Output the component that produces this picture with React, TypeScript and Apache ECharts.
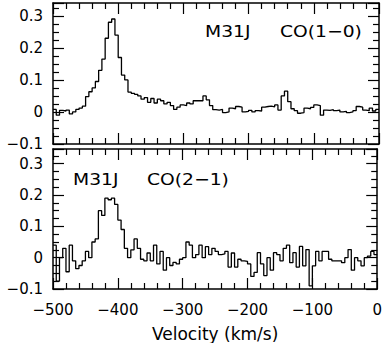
import React, { useEffect, useRef } from "react";
import * as echarts from "echarts";

// Spectra: channels of 5 km/s starting at -500 km/s
const CHANNEL_START = -500;
const CHANNEL_WIDTH = 5;

const co10 = [
  0.008, -0.01, 0.005, 0.003, 0.006, -0.006, 0.0, 0.008, 0.012, 0.018,
  0.048, 0.063, 0.075, 0.095, 0.13, 0.165, 0.23, 0.28, 0.29, 0.24,
  0.17, 0.115, 0.1, 0.062, 0.058, 0.055, 0.05, 0.04, 0.045, 0.03,
  0.042, 0.028, 0.04, 0.035, 0.025, 0.03, 0.02, 0.008, 0.015, 0.022,
  0.02, 0.028, 0.025, 0.035, 0.035, 0.035, 0.05, 0.038, 0.02, 0.007,
  0.006, 0.008, -0.002, 0.0, 0.012, 0.01, 0.017, 0.015, 0.0, 0.002,
  0.005, 0.0, 0.004, 0.003, 0.015, 0.017, 0.018, 0.016, 0.022, 0.006,
  0.05, 0.065, 0.032, 0.01, 0.004, -0.004, -0.002, 0.012, 0.01, 0.014,
  0.022, 0.02, -0.01, 0.006, 0.005, 0.007, 0.004, 0.006, 0.0, 0.002,
  -0.002, 0.0, 0.004, 0.017, 0.015, 0.006, 0.004, 0.012, 0.003, 0.008,
];

const co21 = [
  0.04, -0.075, 0.0, 0.03, -0.045, 0.04, -0.01, -0.035, -0.025, -0.01,
  0.02, 0.0, 0.05, 0.06, 0.15, 0.135, 0.19, 0.185, 0.19, 0.17,
  0.12, 0.09, 0.03, 0.0, 0.025, 0.06, 0.03, -0.005, -0.01, 0.015,
  -0.01, 0.04, -0.02, 0.02, -0.04, 0.0, -0.025, -0.015, -0.02, -0.005,
  0.0, 0.05, 0.04, 0.0, 0.01, 0.04, 0.0, 0.035, 0.01, 0.03,
  0.02, 0.01, 0.012, 0.02, -0.03, 0.015, -0.03, -0.005, -0.01, -0.012,
  -0.02, -0.06, -0.047, 0.016, -0.02, -0.057, 0.0, -0.04, 0.016, 0.01,
  -0.01, 0.03, 0.04, -0.016, 0.016, -0.03, 0.036, -0.026, 0.026, -0.09,
  -0.026, 0.02, -0.01, 0.02, 0.02, -0.005, -0.01, -0.01, -0.01, -0.016,
  0.0, 0.026, -0.04, 0.0, -0.01, -0.026, 0.0, 0.005, 0.02, 0.01,
];

const X_MIN = -500;
const X_MAX = 0;
const X_INTERVAL = 100;
const Y_MIN = -0.1;
const Y_INTERVAL = 0.1;
const TOP_Y_MAX = 0.34;
const BOTTOM_Y_MAX = 0.347;

const topLabels = ["M31J", "CO(1\u22120)"];
const bottomLabels = ["M31J", "CO(2\u22121)"];
const xTitle = "Velocity (km/s)";

const FONT = "DejaVu Sans";

function toSteps(values: number[]) {
  const pts: number[][] = values.map((v, i) => [CHANNEL_START + i * CHANNEL_WIDTH, v]);
  pts.push([CHANNEL_START + values.length * CHANNEL_WIDTH, values[values.length - 1]]);
  return pts;
}

const minus = (s: string) => s.replace("-", "\u2212");

function yFmt(v: number) {
  const r = Math.round(v * 10);
  if (Math.abs(v * 10 - r) > 1e-6) return "";
  if (r === 0) return "0";
  return minus((r / 10).toFixed(1));
}

function xFmt(v: number) {
  if (v === 0) return "0";
  return minus(String(v));
}

function xAxisDef(gridIndex: number, position: "top" | "bottom", showLabel: boolean, name?: string) {
  return {
    type: "value",
    gridIndex,
    position,
    min: X_MIN,
    max: X_MAX,
    interval: X_INTERVAL,
    name: name || "",
    nameLocation: "middle",
    nameGap: 36,
    nameTextStyle: { fontFamily: FONT, fontSize: 17, color: "#000" },
    axisLine: { show: true, onZero: false, lineStyle: { color: "#000", width: 1.5 } },
    axisTick: { show: true, inside: true, length: 11, lineStyle: { color: "#000", width: 1.2 } },
    minorTick: { show: true, splitNumber: 5, length: 6, lineStyle: { color: "#000", width: 1.2 } },
    splitLine: { show: false },
    minorSplitLine: { show: false },
    axisLabel: {
      show: showLabel,
      margin: 13,
      fontFamily: FONT,
      fontSize: 15,
      color: "#000",
      formatter: xFmt,
      showMinLabel: true,
      showMaxLabel: true,
    },
  };
}

function yAxisDef(gridIndex: number, position: "left" | "right", showLabel: boolean, max: number) {
  return {
    type: "value",
    gridIndex,
    position,
    min: Y_MIN,
    max,
    interval: Y_INTERVAL,
    axisLine: { show: true, onZero: false, lineStyle: { color: "#000", width: 1.5 } },
    axisTick: { show: true, inside: true, length: 11, lineStyle: { color: "#000", width: 1.2 } },
    minorTick: { show: true, splitNumber: 4, length: 6, lineStyle: { color: "#000", width: 1.2 } },
    splitLine: { show: false },
    minorSplitLine: { show: false },
    axisLabel: {
      show: showLabel,
      margin: 10,
      fontFamily: FONT,
      fontSize: 15,
      color: "#000",
      formatter: yFmt,
    },
  };
}

function labelText(x: number, y: number, text: string) {
  return {
    type: "text",
    x,
    y,
    scaleX: 1.17,
    style: {
      text,
      fill: "#000",
      font: `16px "${FONT}"`,
      textVerticalAlign: "middle",
      textAlign: "left",
    },
  };
}

export default function App() {
  const ref = useRef<HTMLDivElement>(null);

  useEffect(() => {
    if (!ref.current) return;
    const chart = echarts.init(ref.current, null, { renderer: "svg" });
    chart.setOption({
      animation: false,
      backgroundColor: "#fff",
      grid: [
        { left: 53, right: 6, top: 3, height: 141 },
        { left: 53, right: 6, top: 149, height: 143 },
      ],
      xAxis: [
        xAxisDef(0, "bottom", false),
        xAxisDef(0, "top", false),
        xAxisDef(1, "bottom", true, xTitle),
        xAxisDef(1, "top", false),
      ],
      yAxis: [
        yAxisDef(0, "left", true, TOP_Y_MAX),
        yAxisDef(0, "right", false, TOP_Y_MAX),
        yAxisDef(1, "left", true, BOTTOM_Y_MAX),
        yAxisDef(1, "right", false, BOTTOM_Y_MAX),
      ],
      series: [
        {
          type: "line",
          xAxisIndex: 0,
          yAxisIndex: 0,
          step: "end",
          symbol: "none",
          clip: true,
          lineStyle: { color: "#000", width: 1.3 },
          data: toSteps(co10),
        },
        {
          type: "line",
          xAxisIndex: 2,
          yAxisIndex: 2,
          step: "end",
          symbol: "none",
          clip: true,
          lineStyle: { color: "#000", width: 1.3 },
          data: toSteps(co21),
        },
      ],
      graphic: [
        labelText(205, 31, topLabels[0]),
        labelText(280, 31, topLabels[1]),
        labelText(73, 179, bottomLabels[0]),
        labelText(147, 179, bottomLabels[1]),
      ],
    });
    return () => chart.dispose();
  }, []);

  return (
    <div
      ref={ref}
      style={{ position: "fixed", left: 0, top: 0, width: 385, height: 343, background: "#fff" }}
    />
  );
}
